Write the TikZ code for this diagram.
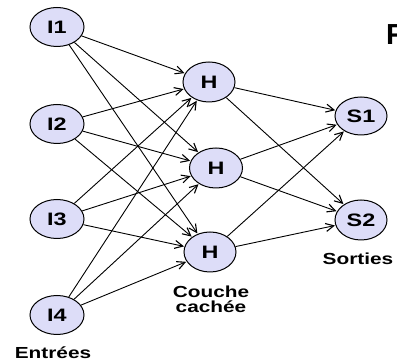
\documentclass[tikz,border=0pt]{standalone}
\usepackage{fontspec}
\setmainfont{Liberation Sans}
\usetikzlibrary{arrows.meta,shapes.geometric}
\definecolor{nodefill}{HTML}{DDDDF8}
\newcommand{\wtxt}[1]{\scalebox{1.3}[1]{#1}}
\tikzset{
  neuron/.style={ellipse, draw=black, line width=1pt, fill=nodefill,
    minimum width=54pt, minimum height=39pt, inner sep=0pt,
    font=\fontsize{18}{18}\selectfont\bfseries},
  lbl/.style={font=\fontsize{16}{17}\selectfont\bfseries, align=center, inner sep=0pt},
  conn/.style={draw=black, line width=0.9pt, -{Straight Barb[length=8pt,width=8pt,line width=1.1pt]}, shorten >=0.5pt}
}
\begin{document}
\begin{tikzpicture}[x=1pt,y=-1pt]
\useasboundingbox (0,0) rectangle (397,363);
\node[neuron] (i1) at (57,27) {\wtxt{I1}};
\node[neuron] (i2) at (57,124) {\wtxt{I2}};
\node[neuron] (i3) at (57,219) {\wtxt{I3}};
\node[neuron] (i4) at (57,315) {\wtxt{I4}};
\node[neuron, minimum width=52pt, minimum height=40pt] (h1) at (209,82) {\wtxt{H}};
\node[neuron, minimum width=53pt, minimum height=40pt] (h2) at (216,168) {\wtxt{H}};
\node[neuron, minimum width=52pt, minimum height=40pt] (h3) at (210,252) {\wtxt{H}};
\node[neuron, minimum width=52pt, minimum height=38pt] (s1) at (361,116) {\wtxt{S1}};
\node[neuron, minimum width=52pt, minimum height=40pt] (s2) at (361,220) {\wtxt{S2}};
\node[lbl] (ent) at (53,353) {\wtxt{Entrées}};
\node[lbl] (sor) at (358,259) {\wtxt{Sorties}};
\node[lbl] (cc) at (211,299) {\wtxt{Couche}\\[-2pt]\wtxt{cachée}};
\node[anchor=north west, inner sep=0pt, font=\fontsize{29}{29}\selectfont\bfseries] (f) at (386,24) {F};
\foreach \i in {i1,i2,i3,i4}{
  \foreach \h in {h1,h2,h3}{
    \draw[conn] (\i) -- (\h);
  }
}
\foreach \h in {h1,h2,h3}{
  \foreach \s in {s1,s2}{
    \draw[conn] (\h) -- (\s);
  }
}
\end{tikzpicture}
\end{document}
